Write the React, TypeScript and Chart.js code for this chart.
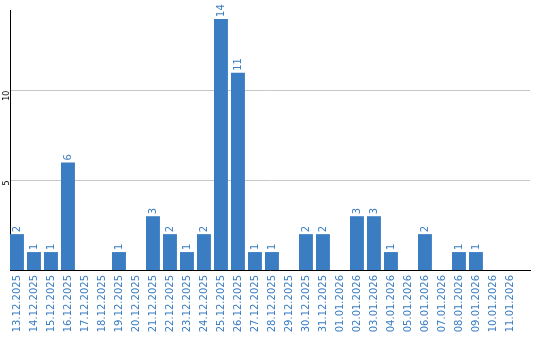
import React, { useEffect, useRef } from "react";
import { Chart, registerables } from "chart.js";

Chart.register(...registerables);

const categories = [
  "13.12.2025", "14.12.2025", "15.12.2025", "16.12.2025", "17.12.2025", "18.12.2025",
  "19.12.2025", "20.12.2025", "21.12.2025", "22.12.2025", "23.12.2025", "24.12.2025",
  "25.12.2025", "26.12.2025", "27.12.2025", "28.12.2025", "29.12.2025", "30.12.2025",
  "31.12.2025", "01.01.2026", "02.01.2026", "03.01.2026", "04.01.2026", "05.01.2026",
  "06.01.2026", "07.01.2026", "08.01.2026", "09.01.2026", "10.01.2026", "11.01.2026",
];
const values = [2, 1, 1, 6, 0, 0, 1, 0, 3, 2, 1, 2, 14, 11, 1, 1, 0, 2, 2, 0, 3, 3, 1, 0, 2, 0, 1, 1, 0, 0];
const yTicks = [5, 10];

const BLUE = "#3a7dc2";

const valueLabels = {
  id: "valueLabels",
  afterDatasetsDraw(chart: any) {
    const ctx = chart.ctx;
    const meta = chart.getDatasetMeta(0);
    ctx.save();
    ctx.fillStyle = BLUE;
    ctx.font = "10px 'DejaVu Sans'";
    ctx.textAlign = "left";
    ctx.textBaseline = "middle";
    meta.data.forEach((bar: any, i: number) => {
      const v = values[i];
      if (!v) return;
      ctx.save();
      ctx.translate(bar.x, bar.y - 2);
      ctx.rotate(-Math.PI / 2);
      ctx.fillText(String(v), 0, 0);
      ctx.restore();
    });
    ctx.restore();
  },
};

export default function App() {
  const ref = useRef<HTMLCanvasElement>(null);
  useEffect(() => {
    const chart = new Chart(ref.current!, {
      type: "bar",
      data: {
        datasets: [
          {
            data: values.map((v, i) => ({ x: i, y: v })),
            backgroundColor: BLUE,
            borderWidth: 0,
            barPercentage: 0.82,
            categoryPercentage: 1,
          },
        ],
      },
      options: {
        animation: false,
        responsive: false,
        layout: { padding: { left: 0, right: 10, top: 10, bottom: 0 } },
        plugins: { legend: { display: false }, tooltip: { enabled: false } },
        scales: {
          x: {
            type: "linear",
            min: -0.41,
            max: 30.18,
            offset: false,
            afterBuildTicks: (axis: any) => {
              axis.ticks = categories.map((_, i) => ({ value: i }));
            },
            afterFit: (axis: any) => {
              axis.height = 70;
            },
            grid: { display: false, drawTicks: false },
            border: { color: "#000", width: 1 },
            ticks: {
              color: BLUE,
              font: { family: "DejaVu Sans", size: 10 },
              minRotation: 90,
              maxRotation: 90,
              autoSkip: false,
              padding: 5,
              callback: (v: any) => categories[Math.round(Number(v))] ?? "",
            },
          },
          y: {
            min: 0,
            max: 14.5,
            afterBuildTicks: (axis: any) => {
              axis.ticks = yTicks.map((v) => ({ value: v }));
            },
            afterFit: (axis: any) => {
              axis.width = 10;
            },
            grid: { color: "#c8c8c8", drawTicks: false, lineWidth: 1 },
            border: { color: "#000", width: 1 },
            ticks: {
              color: "#000",
              font: { family: "DejaVu Sans", size: 8 },
              minRotation: 90,
              maxRotation: 90,
              padding: 3,
            },
          },
        },
      },
      plugins: [valueLabels],
    });
    return () => chart.destroy();
  }, []);
  return (
    <div style={{ position: "fixed", left: 0, top: 0, width: 540, height: 340, background: "#fff" }}>
      <canvas ref={ref} width={540} height={340} />
    </div>
  );
}
